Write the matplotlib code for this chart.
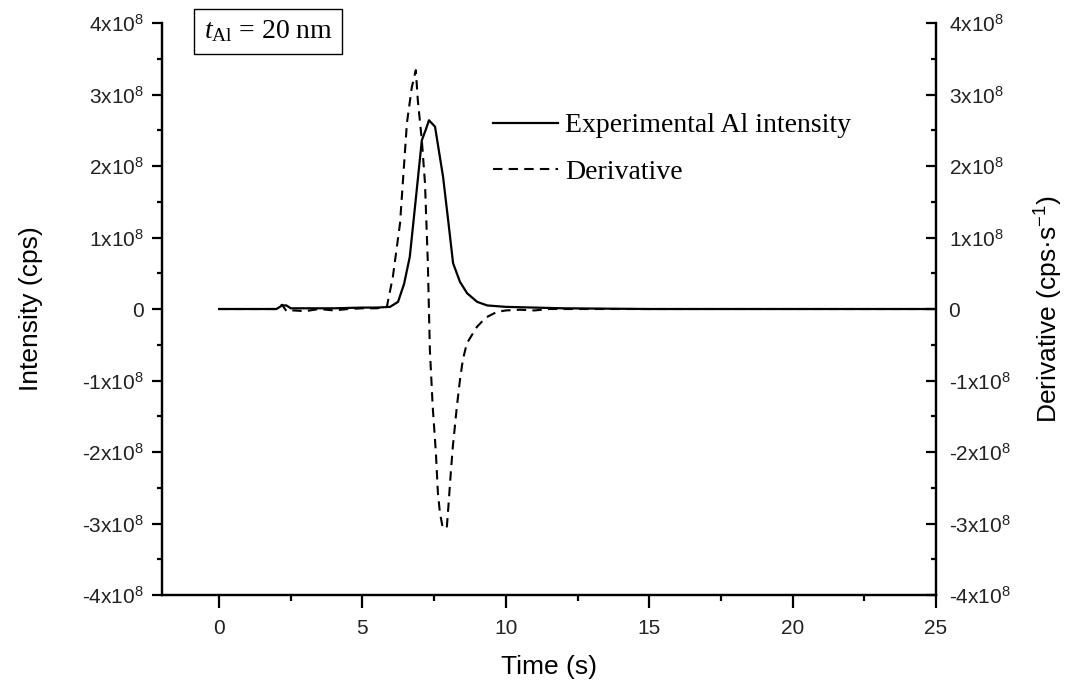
import numpy as np
import matplotlib
matplotlib.use("Agg")
import matplotlib.pyplot as plt
from matplotlib.ticker import MultipleLocator, FuncFormatter

# ---- data (values in units of 1e8) ----
time_int = [0, 2.0, 2.2, 2.35, 2.5, 4.0, 5.0, 5.5, 5.96, 6.24, 6.45, 6.65, 6.85,
            7.07, 7.2, 7.32, 7.53, 7.81, 8.0, 8.16, 8.4, 8.65, 9.0, 9.35, 10.0,
            11.0, 12.0, 15.0, 20.0, 25.0]
intensity = [0, 0, 0.05, 0.05, 0.01, 0.01, 0.02, 0.02, 0.03, 0.10, 0.35, 0.73, 1.5,
             2.36, 2.5, 2.64, 2.55, 1.85, 1.2, 0.64, 0.38, 0.22, 0.10, 0.05, 0.03,
             0.02, 0.01, 0, 0, 0]

time_der = [0, 2.0, 2.2, 2.35, 2.6, 3.0, 3.5, 4.0, 4.5, 5.0, 5.5, 5.85, 6.06, 6.31,
            6.55, 6.72, 6.86, 6.93, 7.07, 7.18, 7.28, 7.35, 7.45, 7.56, 7.63, 7.70,
            7.80, 7.94, 7.98, 8.08, 8.15, 8.29, 8.40, 8.50, 8.64, 8.99, 9.3, 9.69,
            10.0, 10.5, 11.0, 11.5, 12.0, 15.0, 20.0, 25.0]
derivative = [0, 0, 0.06, -0.03, -0.02, -0.03, 0, -0.02, 0, 0.01, 0.01, 0.03, 0.45,
              1.20, 2.60, 3.10, 3.34, 2.92, 2.36, 1.76, 0.64, -0.57, -1.37, -2.01,
              -2.57, -2.85, -3.06, -3.06, -2.85, -2.29, -1.93, -1.37, -0.99, -0.71,
              -0.48, -0.25, -0.12, -0.04, -0.02, -0.01, -0.02, 0, 0, 0, 0, 0]

scale = 1e8
intensity = np.array(intensity) * scale
derivative = np.array(derivative) * scale

plt.rcParams['font.family'] = ['Liberation Sans', 'DejaVu Sans']
plt.rcParams['mathtext.fontset'] = 'custom'
plt.rcParams['mathtext.rm'] = 'Liberation Serif'
plt.rcParams['mathtext.it'] = 'Liberation Serif:italic'
plt.rcParams['mathtext.default'] = 'regular'


def sci_fmt(v, pos):
    n = int(round(v / scale))
    if n == 0:
        return '0'
    return '%dx10$^{8}$' % n


fig = plt.figure(figsize=(10.81, 6.97), dpi=100)
ax = fig.add_axes([0.1496, 0.1463, 0.7163, 0.8207])
ax2 = ax.twinx()

l1, = ax.plot(time_int, intensity, color='black', lw=1.6,
              label='Experimental Al intensity')
l2, = ax2.plot(time_der, derivative, color='black', lw=1.5,
               dashes=(4.5, 3), label='Derivative')

for a in (ax, ax2):
    a.set_xlim(-2, 25)
    a.set_ylim(-4e8, 4e8)
    a.yaxis.set_major_locator(MultipleLocator(1e8))
    a.yaxis.set_minor_locator(MultipleLocator(0.5e8))
    a.yaxis.set_major_formatter(FuncFormatter(sci_fmt))
    a.spines['top'].set_visible(False)
    for s in a.spines.values():
        s.set_linewidth(1.6)

ax.xaxis.set_major_locator(MultipleLocator(5))
ax.xaxis.set_minor_locator(MultipleLocator(2.5))
ax.tick_params(axis='x', which='major', direction='out', length=9, width=1.6,
               pad=8, labelsize=15, labelcolor='#222222')
ax.tick_params(axis='x', which='minor', direction='out', length=4.5, width=1.6)
ax.tick_params(axis='y', which='major', direction='out', length=7, width=1.6,
               pad=6, labelsize=15, labelcolor='#222222')
ax.tick_params(axis='y', which='minor', direction='out', length=3.5, width=1.6)
ax2.tick_params(axis='y', which='major', direction='in', length=7, width=1.6,
                pad=9, labelsize=15, labelcolor='#222222')
ax2.tick_params(axis='y', which='minor', direction='in', length=3.5, width=1.6)

ax.set_xlabel('Time (s)', fontsize=19)
ax.xaxis.set_label_coords(0.5, -0.105)
ax.set_ylabel('Intensity (cps)', fontsize=19)
ax.yaxis.set_label_coords(-0.153, 0.5)
ax2.set_ylabel('Derivative (cps·s$^{-1}$)', fontsize=19)
ax2.yaxis.set_label_coords(1.125, 0.5)

fig.legend(handles=[l1, l2], loc='upper left', bbox_to_anchor=(0.456, 0.838),
           frameon=False, borderpad=0, borderaxespad=0, handlelength=2.35,
           handletextpad=0.25, labelspacing=0.75,
           prop={'family': 'Liberation Serif', 'size': 20})

fig.text(0.248, 0.955, r'$\mathit{t}_{\mathrm{Al}}$ = 20 nm', ha='center', va='center',
         family='Liberation Serif', fontsize=20,
         bbox=dict(boxstyle='square,pad=0.35', fc='white', ec='black', lw=1.0))

fig.savefig('out.png', dpi=100)
